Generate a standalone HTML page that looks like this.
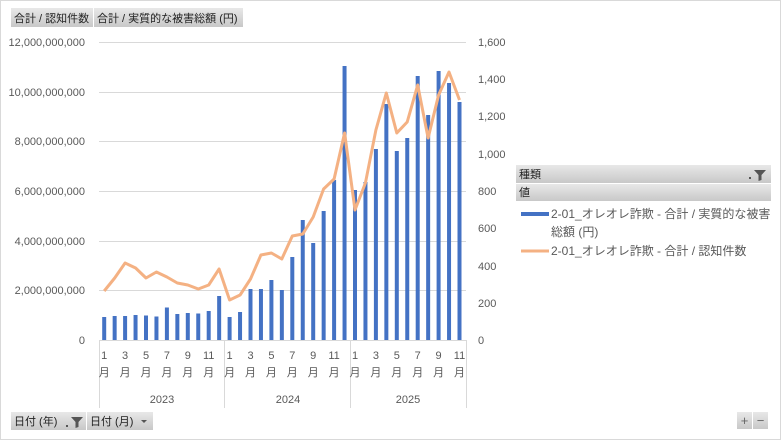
<!DOCTYPE html>
<html><head><meta charset="utf-8"><style>
body{margin:0;background:#fff;}
svg{display:block;font-family:"Liberation Sans","Noto Sans CJK JP",sans-serif;}
</style></head><body>
<svg width="781" height="440" viewBox="0 0 781 440">
<defs><linearGradient id="g" x1="0" y1="0" x2="0" y2="1"><stop offset="0" stop-color="#e8e8e8"/><stop offset="1" stop-color="#c8c8c8"/></linearGradient></defs>
<rect x="0.5" y="0.5" width="780" height="439" fill="#fff" stroke="#d9d9d9"/>
<!-- top buttons -->
<rect x="11" y="8" width="82" height="19" fill="url(#g)"/>
<rect x="94" y="8" width="149" height="19" fill="url(#g)"/>
<text x="14" y="22" font-size="11" fill="#222">合計 / 認知件数</text>
<text x="97" y="22" font-size="11" fill="#222">合計 / 実質的な被害総額 (円)</text>
<!-- gridlines -->
<g stroke="#d9d9d9" stroke-width="1">
<line x1="99" x2="466" y1="42.5" y2="42.5"/><line x1="99" x2="466" y1="92.5" y2="92.5"/>
<line x1="99" x2="466" y1="141.5" y2="141.5"/><line x1="99" x2="466" y1="191.5" y2="191.5"/>
<line x1="99" x2="466" y1="241.5" y2="241.5"/><line x1="99" x2="466" y1="290.5" y2="290.5"/>
<line x1="99" x2="466" y1="340.5" y2="340.5"/>
<line x1="99.5" x2="99.5" y1="340" y2="408"/><line x1="224.5" x2="224.5" y1="340" y2="408"/>
<line x1="350.5" x2="350.5" y1="340" y2="408"/><line x1="466.5" x2="466.5" y1="340" y2="408"/>
</g>
<g font-size="11" fill="#595959" text-anchor="end">
<text x="85" y="46">12,000,000,000</text><text x="85" y="96">10,000,000,000</text>
<text x="85" y="145">8,000,000,000</text><text x="85" y="195">6,000,000,000</text>
<text x="85" y="245">4,000,000,000</text><text x="85" y="294">2,000,000,000</text>
<text x="85" y="344">0</text>
</g>
<g font-size="11" fill="#595959" text-anchor="start">
<text x="478" y="46">1,600</text><text x="478" y="83">1,400</text><text x="478" y="120">1,200</text>
<text x="478" y="158">1,000</text><text x="478" y="195">800</text><text x="478" y="232">600</text>
<text x="478" y="270">400</text><text x="478" y="307">200</text><text x="478" y="344">0</text>
</g>
<g id="bars" fill="#4472c4"></g>
<polyline id="ln" fill="none" stroke="#f4b183" stroke-width="3" stroke-linejoin="round"/>
<g id="xl" font-size="11" fill="#595959" text-anchor="middle"></g>
<g font-size="11" fill="#595959" text-anchor="middle">
<text x="162" y="403">2023</text><text x="288" y="403">2024</text><text x="408" y="403">2025</text>
</g>
<!-- bottom buttons -->
<rect x="11" y="412" width="75" height="18" fill="url(#g)"/>
<rect x="87" y="412" width="66" height="18" fill="url(#g)"/>
<text x="14" y="425" font-size="11" fill="#222">日付 (年)</text>
<path d="M71 417h12l-4.5 5v5l-3 1v-6z" fill="#555"/><rect x="66" y="425" width="2" height="2" fill="#555"/>
<text x="90" y="425" font-size="11" fill="#222">日付 (月)</text>
<path d="M141 420h6l-3 3z" fill="#555"/>
<rect x="737" y="412" width="15" height="17" fill="url(#g)"/><rect x="753" y="412" width="15" height="17" fill="url(#g)"/>
<text x="744.5" y="425" font-size="13" fill="#666" text-anchor="middle">+</text>
<text x="760.5" y="425" font-size="13" fill="#666" text-anchor="middle">−</text>
<!-- legend -->
<rect x="516" y="165" width="255" height="18" fill="url(#g)"/>
<rect x="516" y="184" width="255" height="17" fill="url(#g)"/>
<text x="519" y="178" font-size="11" fill="#222">種類</text>
<text x="519" y="196" font-size="11" fill="#222">値</text>
<path d="M754 170h12l-4.5 5v5l-3 1v-6z" fill="#555"/><rect x="749" y="177" width="2" height="2" fill="#555"/>
<rect x="521" y="212" width="28" height="4" fill="#4472c4"/>
<text x="551" y="218" font-size="12" fill="#595959">2-01_オレオレ詐欺 - 合計 / 実質的な被害</text>
<text x="551" y="236" font-size="12" fill="#595959">総額 (円)</text>
<line x1="521" x2="549" y1="251" y2="251" stroke="#f4b183" stroke-width="3"/>
<text x="551" y="255" font-size="12" fill="#595959">2-01_オレオレ詐欺 - 合計 / 認知件数</text>
</svg>
<script>
var tops=[317,316,316,315,315.5,316.5,307.5,314,313,313.5,311,296,317,312,289,289,280,290,257,220,243,211,180,66,190,182,149,104,151,138,76,115,71,83,102];
var ln=[291,278,263,268,278,272,277,283,285,289,285,269,300,295,279,255,253,259,236,234,217,189,179,133,210,183,130,93,133,122,85,138,95,72,100];
var b=document.getElementById('bars'),xl=document.getElementById('xl'),pts=[],ns="http://www.w3.org/2000/svg";
for(var i=0;i<35;i++){var cx=99+5.2+10.45*i;
var r=document.createElementNS(ns,'rect');r.setAttribute('x',cx-2);r.setAttribute('width',4);r.setAttribute('y',tops[i]);r.setAttribute('height',340-tops[i]);b.appendChild(r);
pts.push(cx.toFixed(1)+','+ln[i]);
var m=i%12+1;if(m%2==1){var t=document.createElementNS(ns,'text');t.setAttribute('x',cx);t.setAttribute('y',359);t.textContent=m;xl.appendChild(t);
var t2=document.createElementNS(ns,'text');t2.setAttribute('x',cx);t2.setAttribute('y',376);t2.textContent='月';xl.appendChild(t2);}}
document.getElementById('ln').setAttribute('points',pts.join(' '));
</script>
</body></html>
